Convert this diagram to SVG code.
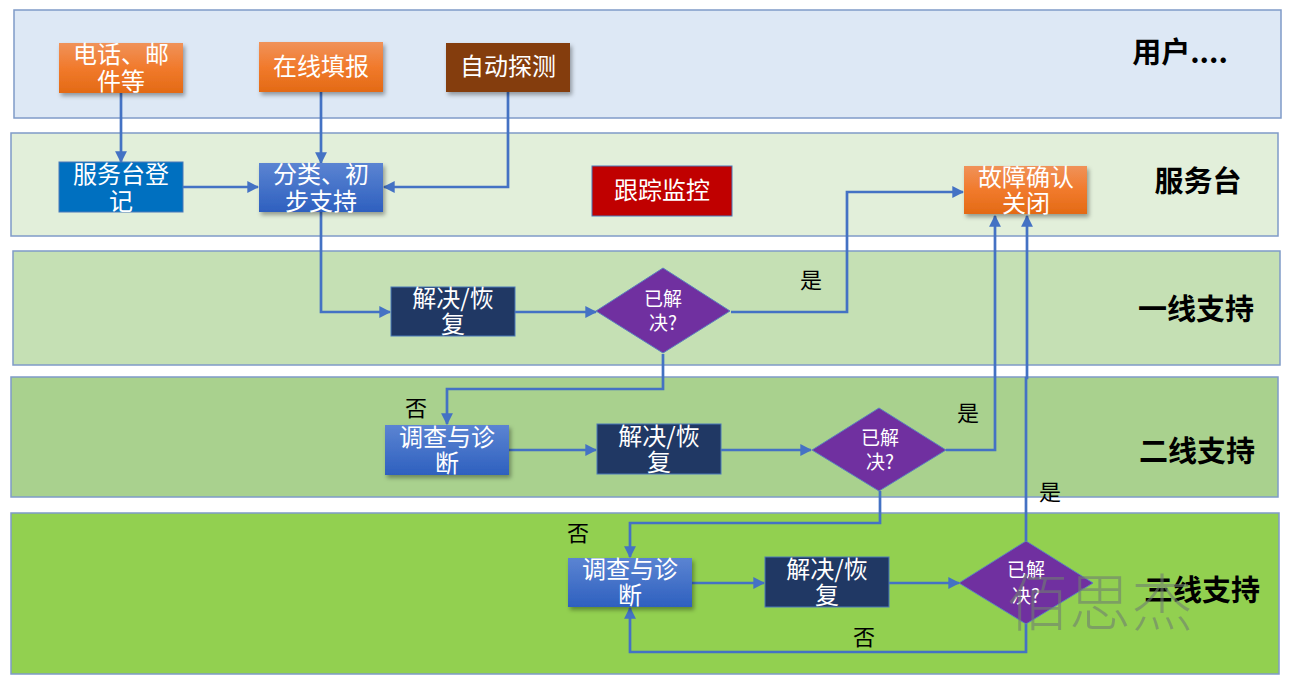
<svg xmlns="http://www.w3.org/2000/svg" width="1292" height="684" viewBox="0 0 1292 684">
<defs>
<linearGradient id="gOrange" x1="0" y1="0" x2="0" y2="1"><stop offset="0" stop-color="#f09259"/><stop offset="0.5" stop-color="#f17a2c"/><stop offset="1" stop-color="#e36a15"/></linearGradient>
<linearGradient id="gBlue" x1="0" y1="0" x2="0" y2="1"><stop offset="0" stop-color="#5b84d2"/><stop offset="1" stop-color="#2e60bf"/></linearGradient>
<filter id="sh" x="-10%" y="-10%" width="130%" height="140%"><feDropShadow dx="2" dy="3" stdDeviation="2" flood-color="#000" flood-opacity="0.35"/></filter>
<marker id="ar" viewBox="0 0 10 10" refX="9" refY="5" markerWidth="4.4" markerHeight="4.4" orient="auto"><path d="M0,0 L10,5 L0,10 z" fill="#4472c4"/></marker>
<style>
.lane{stroke:#7f9bc8;stroke-width:1.5}
.nt{font-family:"Noto Sans CJK SC","Microsoft YaHei",sans-serif;font-size:24px;fill:#fff;text-anchor:middle}
.dt{font-family:"Noto Sans CJK SC",sans-serif;font-size:19px;fill:#fff;text-anchor:middle}
.lt{font-family:"Noto Sans CJK SC",sans-serif;font-size:29px;font-weight:bold;fill:#000;text-anchor:middle}
.yn{font-family:"Noto Sans CJK SC",sans-serif;font-size:22px;fill:#000;text-anchor:middle}
.c{fill:none;stroke:#4472c4;stroke-width:2.7;marker-end:url(#ar)}
.dia{fill:#7030a0;stroke:#5b7fbf;stroke-width:1}
</style>
</defs>
<g id="lanes">
<rect class="lane" x="14" y="10" width="1267" height="108" fill="#dde8f5"/>
<rect class="lane" x="11" y="133" width="1267" height="103" fill="#e2efda"/>
<rect class="lane" x="13" y="251" width="1267" height="114" fill="#c5e0b4"/>
<rect class="lane" x="11" y="377" width="1267" height="120" fill="#a9d18e"/>
<rect class="lane" x="11" y="513" width="1268" height="161" fill="#92d050"/>
<text class="lt" x="1180" y="63">用户....</text>
<text class="lt" x="1198" y="192">服务台</text>
<text class="lt" x="1196" y="320">一线支持</text>
<text class="lt" x="1197" y="462">二线支持</text>
<text class="lt" x="1202" y="601">三线支持</text>
</g>
<g id="connectors">
<path class="c" d="M121,93 V162"/>
<path class="c" d="M321,92 V163"/>
<path class="c" d="M508,92 V187 H384"/>
<path class="c" d="M183,187 H258"/>
<path class="c" d="M321,212 V312 H390"/>
<path class="c" d="M515,312 H596"/>
<path class="c" d="M731,312 H847 V192 H963"/>
<path class="c" d="M663,354 V389 H447 V424"/>
<path class="c" d="M509,450 H596"/>
<path class="c" d="M721,450 H811"/>
<path class="c" d="M946,450 H995 V216"/>
<path class="c" d="M880,491 V523 H630 V557"/>
<path class="c" d="M692,583 H764"/>
<path class="c" d="M889,583 H959"/>
<path class="c" d="M1026,541 V378 H1027 V216"/>
<path class="c" d="M1026,624 V652 H630 V608"/>
<text class="yn" x="811" y="288">是</text>
<text class="yn" x="416" y="416">否</text>
<text class="yn" x="968" y="421">是</text>
<text class="yn" x="578" y="541">否</text>
<text class="yn" x="1050" y="500">是</text>
<text class="yn" x="864" y="645">否</text>
</g>
<g id="n-phone"><rect x="59" y="43" width="124" height="50" fill="url(#gOrange)" filter="url(#sh)"/><text class="nt" x="121" y="63">电话、邮</text><text class="nt" x="121" y="90">件等</text></g>
<g id="n-online"><rect x="259" y="42" width="124" height="50" fill="url(#gOrange)" filter="url(#sh)"/><text class="nt" x="321" y="75">在线填报</text></g>
<g id="n-auto"><rect x="446" y="43" width="124" height="49" fill="#843c0c" filter="url(#sh)"/><text class="nt" x="508" y="75">自动探测</text></g>
<g id="n-register"><rect x="59" y="162" width="124" height="50" fill="#0070c0" stroke="#4a78b8" stroke-width="1"/><text class="nt" x="121" y="183">服务台登</text><text class="nt" x="121" y="210">记</text></g>
<g id="n-classify"><rect x="259" y="163" width="124" height="49" fill="url(#gBlue)" filter="url(#sh)"/><text class="nt" x="321" y="183">分类、初</text><text class="nt" x="321" y="210">步支持</text></g>
<g id="n-track"><rect x="592" y="166" width="140" height="50" fill="#c00000" stroke="#4a78b8" stroke-width="1"/><text class="nt" x="662" y="199">跟踪监控</text></g>
<g id="n-close"><rect x="964" y="166" width="123" height="48" fill="url(#gOrange)" filter="url(#sh)"/><text class="nt" x="1026" y="186">故障确认</text><text class="nt" x="1026" y="212">关闭</text></g>
<g id="n-resolve1"><rect x="391" y="287" width="124" height="49" fill="#203864" stroke="#4a78b8" stroke-width="1"/><text class="nt" x="453" y="307">解决/恢</text><text class="nt" x="453" y="333">复</text></g>
<g id="n-dec1"><polygon class="dia" points="663,268 730,311 663,353 596,311"/><text class="dt" x="663" y="306">已解</text><text class="dt" x="663" y="330">决?</text></g>
<g id="n-inv2"><rect x="385" y="425" width="124" height="50" fill="url(#gBlue)" filter="url(#sh)"/><text class="nt" x="447" y="446">调查与诊</text><text class="nt" x="447" y="472">断</text></g>
<g id="n-resolve2"><rect x="597" y="424" width="124" height="50" fill="#203864" stroke="#4a78b8" stroke-width="1"/><text class="nt" x="659" y="445">解决/恢</text><text class="nt" x="659" y="471">复</text></g>
<g id="n-dec2"><polygon class="dia" points="879,408 946,450 879,491 812,450"/><text class="dt" x="880" y="445">已解</text><text class="dt" x="880" y="469">决?</text></g>
<g id="n-inv3"><rect x="568" y="558" width="124" height="49" fill="url(#gBlue)" filter="url(#sh)"/><text class="nt" x="630" y="578">调查与诊</text><text class="nt" x="630" y="604">断</text></g>
<g id="n-resolve3"><rect x="765" y="557" width="124" height="50" fill="#203864" stroke="#4a78b8" stroke-width="1"/><text class="nt" x="827" y="578">解决/恢</text><text class="nt" x="827" y="604">复</text></g>
<g id="n-dec3"><polygon class="dia" points="1026,541 1093,583 1026,624 959,583"/><text class="dt" x="1026" y="577">已解</text><text class="dt" x="1026" y="603">决?</text></g>
<text x="1100" y="626" font-family="Noto Sans CJK SC,sans-serif" font-size="62" font-weight="300" fill="#6f7f6f" fill-opacity="0.6" text-anchor="middle">佰思杰</text>
</svg>
